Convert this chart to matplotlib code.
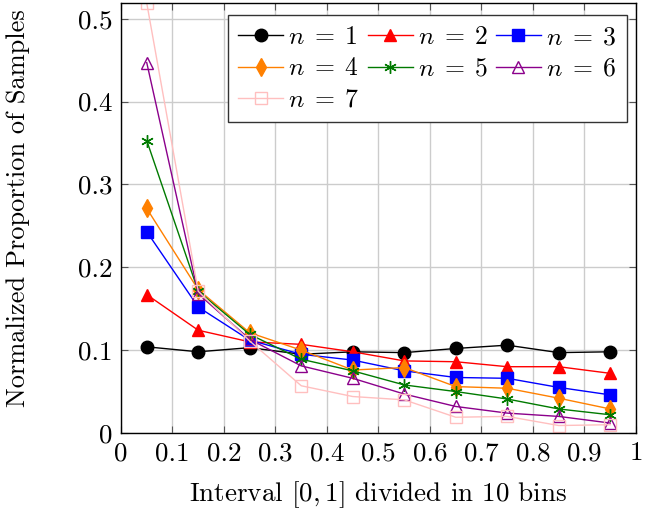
import matplotlib
matplotlib.use('Agg')
import matplotlib.pyplot as plt
import numpy as np

# bin centres of the 10 bins on [0, 1]
bins = [0.05, 0.15, 0.25, 0.35, 0.45, 0.55, 0.65, 0.75, 0.85, 0.95]

n1 = [0.104, 0.098, 0.103, 0.095, 0.098, 0.097, 0.102, 0.106, 0.097, 0.098]
n2 = [0.167, 0.124, 0.110, 0.107, 0.098, 0.087, 0.086, 0.080, 0.080, 0.072]
n3 = [0.243, 0.152, 0.112, 0.095, 0.088, 0.075, 0.067, 0.066, 0.055, 0.046]
n4 = [0.271, 0.173, 0.121, 0.100, 0.076, 0.079, 0.056, 0.054, 0.042, 0.029]
n5 = [0.353, 0.171, 0.119, 0.089, 0.075, 0.058, 0.050, 0.041, 0.029, 0.022]
n6 = [0.447, 0.168, 0.113, 0.081, 0.066, 0.047, 0.032, 0.024, 0.020, 0.012]
n7 = [0.519, 0.171, 0.111, 0.057, 0.044, 0.040, 0.019, 0.020, 0.009, 0.010]

series = [n1, n2, n3, n4, n5, n6, n7]
labels = [r'$n\;=\;1$', r'$n\;=\;2$', r'$n\;=\;3$', r'$n\;=\;4$', r'$n\;=\;5$', r'$n\;=\;6$', r'$n\;=\;7$']
colors = ['black', 'red', 'blue', '#ff8000', '#007a00', '#8b008b', '#ffbfbf']

plt.rcParams['font.family'] = 'serif'
plt.rcParams['font.serif'] = ['cmr10', 'DejaVu Serif']
plt.rcParams['mathtext.fontset'] = 'cm'
plt.rcParams['axes.formatter.use_mathtext'] = True

fig = plt.figure(figsize=(6.46, 5.17), dpi=100)
ax = fig.add_axes([0.1873, 0.1625, 0.7972, 0.8317])

# marker style per series
styles = [
    dict(marker='o', ms=9, mfc='black', mec='black'),
    dict(marker='^', ms=8, mfc='red', mec='red'),
    dict(marker='s', ms=8.5, mfc='blue', mec='blue'),
    dict(marker='d', ms=9, mfc='#ff8000', mec='#ff8000'),
    dict(marker=(6, 2, 0), ms=9, mfc='none', mec='#007a00', mew=1.0),
    dict(marker='^', ms=8, mfc='none', mec='#8b008b', mew=1.0),
    dict(marker='s', ms=9, mfc='none', mec='#ffbfbf', mew=1.0),
]

lines = []
for i in range(len(series)):
    l, = ax.plot(bins, series[i], color=colors[i], lw=1.0, label=labels[i], **styles[i])
    lines.append(l)

ax.set_xlim(0, 1)
ax.set_ylim(0, 0.519)
ax.set_xticks(np.arange(0, 1.01, 0.1))
ax.set_xticklabels(['0', '0.1', '0.2', '0.3', '0.4', '0.5', '0.6', '0.7', '0.8', '0.9', '1'])
ax.set_yticks(np.arange(0, 0.51, 0.1))
ax.set_yticklabels(['0', '0.1', '0.2', '0.3', '0.4', '0.5'])
ax.tick_params(direction='in', top=True, right=True, labelsize=19.5, length=5, color='#555555', pad=6)
ax.grid(True, color='#cccccc', lw=1.0)
ax.set_axisbelow(True)
for s in ax.spines.values():
    s.set_linewidth(1.0)

ax.set_xlabel(r'Interval $[0, 1]$ divided in 10 bins', fontsize=19.5)
ax.set_ylabel('Normalized Proportion of Samples', fontsize=19)
ax.xaxis.set_label_coords(0.5, -0.144)
ax.yaxis.set_label_coords(-0.20, 0.523)
ax.xaxis.label.set_va('center')
ax.yaxis.label.set_va('center')

# row-major order like pgfplots
order = [0, 3, 6, 1, 4, 2, 5]
leg = ax.legend([lines[k] for k in order], [labels[k] for k in order], ncol=3,
                loc='upper right', bbox_to_anchor=(0.9825, 0.972), fontsize=18.5,
                frameon=True, fancybox=False, edgecolor='#333333', framealpha=1,
                handlelength=1.75, handletextpad=0.2, columnspacing=0.3,
                labelspacing=0.3, borderpad=0.4, borderaxespad=0)
leg.get_frame().set_linewidth(1.0)

fig.savefig('out.png', dpi=100)
